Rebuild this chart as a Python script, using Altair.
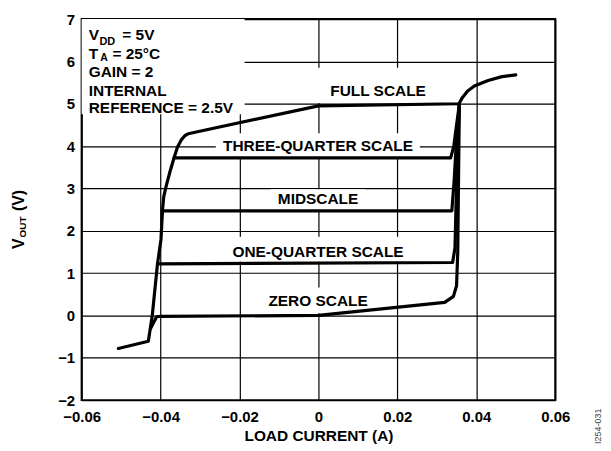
import altair as alt
import pandas as pd

# ---------------- data ----------------
x_ticks = [-0.06, -0.04, -0.02, 0, 0.02, 0.04, 0.06]
y_ticks = [-2, -1, 0, 1, 2, 3, 4, 5, 6, 7]

full_x = [-0.0507, -0.0431, -0.0421, -0.0408, -0.0399, -0.0395, -0.0392, -0.0386, -0.0376,
          -0.0366, -0.0357, -0.0348, -0.0338, -0.0330, 0.0, 0.0356, 0.0365, 0.0378, 0.0395,
          0.0430, 0.0465, 0.0500]
full_y = [-0.78, -0.61, 0.0, 1.2, 1.79, 2.5, 2.8, 3.05, 3.4, 3.72, 3.98, 4.14, 4.25, 4.29,
          4.95, 5.0, 5.15, 5.3, 5.42, 5.55, 5.64, 5.68]

tq_x = [-0.0366, 0.0335, 0.0343, 0.0350, 0.0357]
tq_y = [3.72, 3.72, 4.0, 4.5, 4.98]

mid_x = [-0.0396, 0.0338, 0.0344, 0.0350, 0.0357]
mid_y = [2.47, 2.47, 3.2, 4.2, 4.98]

oq_x = [-0.0408, 0.0340, 0.0346, 0.0351, 0.0357]
oq_y = [1.22, 1.25, 1.6, 3.5, 4.98]

zero_x = [-0.0425, -0.0410, -0.0400, 0.0, 0.0320, 0.0342, 0.0350, 0.0353, 0.0357]
zero_y = [-0.30, -0.03, -0.02, 0.0, 0.31, 0.45, 0.7, 1.5, 4.98]

label_text = ["FULL SCALE", "THREE-QUARTER SCALE", "MIDSCALE", "ONE-QUARTER SCALE", "ZERO SCALE"]
label_x = [0.0151, -0.0001, -0.0001, -0.0001, -0.0001]
label_y = [5.29, 3.99, 2.75, 1.50, 0.35]

# white boxes behind labels (hide grid lines)
box_x1 = [-0.0010, -0.0260, -0.0121, -0.0237, -0.0146, -0.0600]
box_x2 = [0.0313, 0.0257, 0.0118, 0.0234, 0.0144, -0.0187]
box_y1 = [5.02, 3.73, 2.49, 1.27, 0.05, 4.75]
box_y2 = [5.85, 4.30, 2.98, 1.86, 0.66, 7.0]

corner_text = ["V", "DD", "= 5V", "T", "A", "= 25°C", "GAIN = 2", "INTERNAL", "REFERENCE = 2.5V"]
corner_x = [-0.0582, -0.0555, -0.0497, -0.0582, -0.0553, -0.0522, -0.0582, -0.0582, -0.0582]
corner_y = [6.51, 6.39, 6.51, 6.06, 6.02, 6.06, 5.62, 5.19, 4.77]
corner_size = [15.5, 11, 15.5, 15.5, 10.5, 15.5, 15.5, 15.5, 15.5]

# ---------------- tables ----------------
rows = []
for name, xs, ys in [("full", full_x, full_y), ("tq", tq_x, tq_y), ("mid", mid_x, mid_y),
                     ("oq", oq_x, oq_y), ("zero", zero_x, zero_y)]:
    for i, (a, b) in enumerate(zip(xs, ys)):
        rows.append({"curve": name, "order": i, "current": a, "vout": b})
df = pd.DataFrame(rows)

labels_df = pd.DataFrame({"t": label_text, "current": label_x, "vout": label_y})
boxes_df = pd.DataFrame({"current": box_x1, "current2": box_x2, "vout": box_y1, "vout2": box_y2})
corner_df = pd.DataFrame({"t": corner_text, "current": corner_x, "vout": corner_y, "s": corner_size})

FONT = "Liberation Sans"
INK = "#000"
xscale = alt.Scale(domain=[-0.06, 0.06], nice=False, zero=False)
yscale = alt.Scale(domain=[-2, 7], nice=False, zero=False)

xaxis = alt.Axis(values=x_ticks, title="LOAD CURRENT (A)", ticks=False, domain=False,
                 labelExpr="datum.value == 0 ? '0' : replace(format(datum.value, '.2f'), '-', '–')",
                 labelPadding=9, titlePadding=5, labelFlush=False)
yaxis = alt.Axis(values=y_ticks, title=None, ticks=False, domain=False,
                 labelExpr="replace(format(datum.value, 'd'), '-', '–')", labelPadding=7)


def X(field="current"):
    return alt.X(f"{field}:Q", scale=xscale, axis=xaxis)


def Y(field="vout"):
    return alt.Y(f"{field}:Q", scale=yscale, axis=yaxis)


boxes = alt.Chart(boxes_df).mark_rect(color="white").encode(
    x=X(), x2="current2:Q", y=Y(), y2="vout2:Q")

lines = alt.Chart(df).mark_line(color="black", strokeWidth=3.2, strokeJoin="round", strokeCap="round").encode(
    x=X(), y=Y(), detail="curve:N", order="order:Q")

labels = alt.Chart(labels_df).mark_text(font=FONT, fontWeight="bold", fontSize=15.5, color=INK,
                                        align="center", baseline="middle").encode(
    x=X(), y=Y(), text="t:N")

corner = alt.Chart(corner_df).mark_text(font=FONT, fontWeight="bold", color=INK,
                                        align="left", baseline="alphabetic").encode(
    x=X(), y=Y(), text="t:N", size=alt.Size("s:Q", scale=None, legend=None))

# rotated y title built from pieces (for the subscript)
ytitle_text = ["V", "OUT", "(V)"]
ytitle_px = [-58, -56, -58]
ytitle_py = [231, 219.5, 193]
ytitle_size = [16, 10, 16]
ytitle_layers = []
for t, px, py, s in zip(ytitle_text, ytitle_px, ytitle_py, ytitle_size):
    ytitle_layers.append(
        alt.Chart(pd.DataFrame({"t": [t]})).mark_text(
            font=FONT, fontWeight="bold", fontSize=s, angle=270, align="left",
            baseline="alphabetic", color=INK).encode(
            text="t:N", x=alt.value(px), y=alt.value(py)))

code_note = alt.Chart(pd.DataFrame({"t": ["I254-031"]})).mark_text(
    font=FONT, fontSize=9, angle=270, align="left", baseline="alphabetic", color="#444").encode(
    text="t:N", x=alt.value(522), y=alt.value(427))

chart = alt.layer(boxes, lines, labels, corner, *ytitle_layers, code_note).properties(
    width=476, height=383,
    autosize=alt.AutoSizeParams(type="none"),
    padding={"left": 74, "top": 10, "right": 48, "bottom": 45},
).configure_view(stroke="black", strokeWidth=2).configure_axis(
    grid=True, gridColor="black", gridWidth=1.2, gridOpacity=1,
    labelFont=FONT, labelFontWeight="bold", labelFontSize=15, labelColor=INK,
    titleFont=FONT, titleFontWeight="bold", titleFontSize=15.5, titleColor=INK,
)

chart.save("out.html", embed_options={"renderer": "svg", "actions": False})
